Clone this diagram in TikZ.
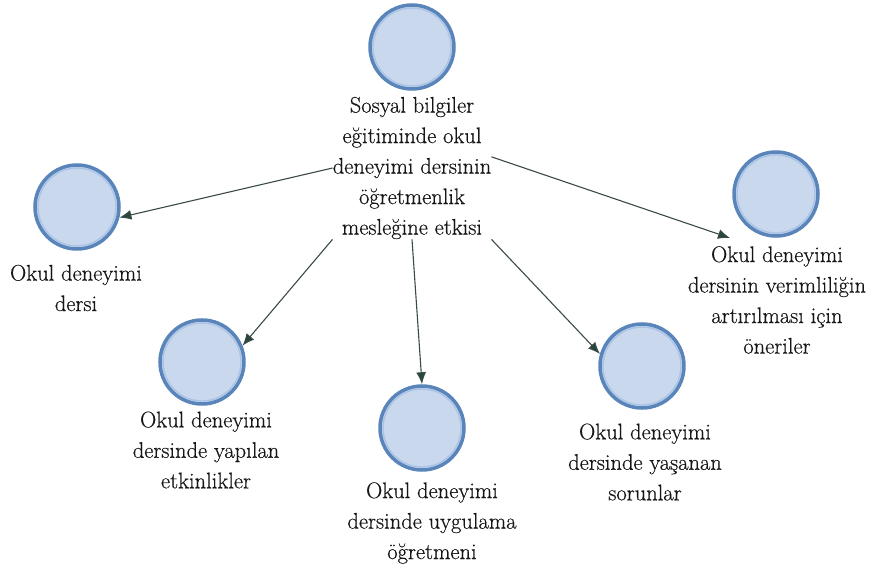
\documentclass[tikz,border=0pt]{standalone}
\usepackage{fontspec}
\newfontfamily\lblfont{Latin Modern Roman}[FakeBold=0.45]
\usetikzlibrary{arrows.meta}
\definecolor{fillc}{HTML}{C9D8EC}
\definecolor{borderc}{HTML}{5A85BA}
\definecolor{ringc}{HTML}{A9C4E6}
\definecolor{arrowc}{HTML}{3A4A47}
\definecolor{headc}{HTML}{27463E}
\definecolor{txtc}{HTML}{161616}
\tikzset{
  bubble/.style={circle, draw=borderc, line width=3.5pt, fill=fillc, minimum size=84pt, inner sep=0pt,
    path picture={\draw[ringc, line width=1.4pt] (path picture bounding box.center) circle (39pt);}},
  lbl/.style={align=center, inner sep=0pt, text=txtc, font=\lblfont\fontsize{22.5}{30.5}\selectfont},
  conn/.style={draw=arrowc, line width=1.1pt, -{Latex[length=12pt,width=10pt,fill=headc]}}
}
\begin{document}
\begin{tikzpicture}[x=1pt,y=-1pt]
\path[use as bounding box] (0,0) rectangle (870,572);
% circles
\node[bubble] (c0) at (412,47) {};
\node[bubble] (c1) at (77,207) {};
\node[bubble] (c2) at (202,362) {};
\node[bubble] (c3) at (422,428) {};
\node[bubble] (c4) at (642,366) {};
\node[bubble] (c5) at (776,194) {};
% labels
\node[lbl] (l0) at (412,168) {Sosyal bilgiler\\eğitiminde okul\\deneyimi dersinin\\öğretmenlik\\mesleğine etkisi};
\node[lbl] (l1) at (76,288) {Okul deneyimi\\dersi};
\node[lbl] (l2) at (206,450) {Okul deneyimi\\dersinde yapılan\\etkinlikler};
\node[lbl] (l3) at (432,523) {Okul deneyimi\\dersinde uygulama\\öğretmeni};
\node[lbl] (l4) at (645,462) {Okul deneyimi\\dersinde yaşanan\\sorunlar};
\node[lbl] (l5) at (777,300) {Okul deneyimi\\dersinin verimliliğin\\artırılması için\\öneriler};
\coordinate (t5) at (730,238);
% connectors
\draw[conn] (l0.west) -- (c1.-14);
\draw[conn] (l0.south west) -- (c2.22);
\draw[conn] (l0.south) -- (c3.north);
\draw[conn] (l0.south east) -- (c4.164);
\draw[conn] (l0.8) -- (t5);
\end{tikzpicture}
\end{document}
